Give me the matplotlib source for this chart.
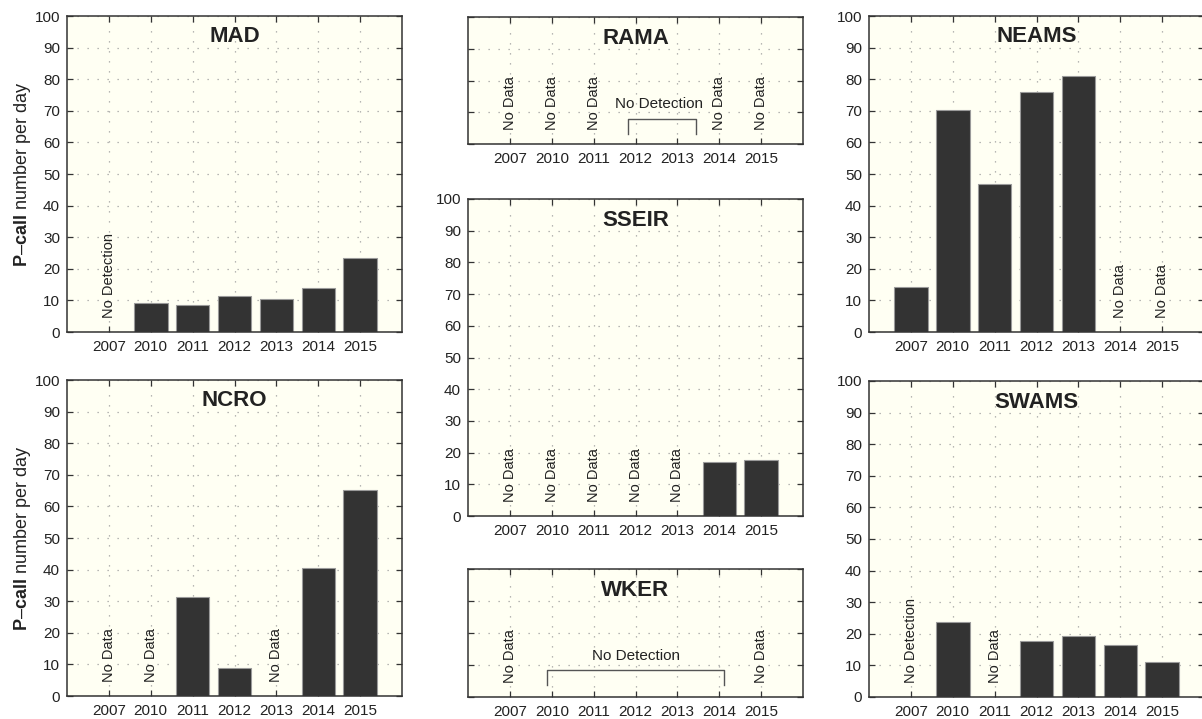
import numpy as np
import matplotlib
matplotlib.use('Agg')
from matplotlib import pyplot as plt

plt.rcParams['font.family'] = ['Liberation Sans', 'DejaVu Sans']
plt.rcParams['mathtext.fontset'] = 'custom'
plt.rcParams['mathtext.bf'] = 'Liberation Sans:bold'
plt.rcParams['mathtext.rm'] = 'Liberation Sans'

years = ['2007', '2010', '2011', '2012', '2013', '2014', '2015']

# values, 0 where there is no bar
mad = [0, 9.3, 8.7, 11.3, 10.5, 13.8, 23.4]
mad_notes = ['No Detection', '', '', '', '', '', '']

ncro = [0, 0, 31.2, 9.0, 0, 40.6, 65.1]
ncro_notes = ['No Data', 'No Data', '', '', 'No Data', '', '']

rama = [0, 0, 0, 0, 0, 0, 0]
rama_notes = ['No Data', 'No Data', 'No Data', '', '', 'No Data', 'No Data']

sseir = [0, 0, 0, 0, 0, 17.0, 17.7]
sseir_notes = ['No Data', 'No Data', 'No Data', 'No Data', 'No Data', '', '']

wker = [0, 0, 0, 0, 0, 0, 0]
wker_notes = ['No Data', '', '', '', '', '', 'No Data']

neams = [14.3, 70.2, 46.7, 76.0, 81.0, 0, 0]
neams_notes = ['', '', '', '', '', 'No Data', 'No Data']

swams = [0, 23.6, 0, 17.7, 19.2, 16.6, 11.1]
swams_notes = ['No Detection', '', 'No Data', '', '', '', '']

W, H = 1202, 719
fig = plt.figure(figsize=(W / 100, H / 100), dpi=100)
fig.patch.set_facecolor('white')

bg = '#fffff3'
dark = '#333333'
txt = '#222222'


def make_ax(x, top, w, h):
    return fig.add_axes([x / W, (H - top - h) / H, w / W, h / H])


def panel(ax, name, vals, notes, ymax=100, labels=True):
    pos = np.arange(1, len(years) + 1)
    ax.set_facecolor(bg)
    ax.set_axisbelow(True)
    ax.bar(pos, vals, width=0.8, color=dark, edgecolor='#9a9a9a', linewidth=0.8)
    ax.set_xlim(0, 8)
    ax.set_ylim(0, ymax)
    ax.set_xticks(pos)
    ax.set_xticklabels(years, fontsize=11, color=txt)
    ax.set_yticks(np.arange(0, ymax + 1, 10))
    if not labels:
        ax.set_yticklabels([])
    else:
        ax.tick_params(axis='y', labelsize=11, labelcolor=txt)
    ax.grid(True, linestyle=(0, (1, 7)), color='#a0a0a0', linewidth=0.9)
    ax.tick_params(direction='in', top=True, right=True, length=4,
                   color=dark, width=0.9, pad=5)
    ax.tick_params(axis='x', pad=6)
    for s in ax.spines.values():
        s.set_color(dark)
        s.set_linewidth(1.1)
    ax.annotate(name, xy=(0.5, 1), xycoords='axes fraction',
                xytext=(0, -21), textcoords='offset pixels',
                ha='center', va='center', fontsize=16, fontweight='bold',
                color=txt)
    for p, t in zip(pos, notes):
        if t:
            ax.text(p, 4.5, t, rotation=90, ha='center', va='bottom',
                    fontsize=10.5, color=txt)


def bracket(ax, x0, x1, ytop, ybot, ytext, xtext):
    ax.plot([x0, x0, x1, x1], [ybot, ytop, ytop, ybot], color='#555555',
            linewidth=1.0)
    ax.text(xtext, ytext, 'No Detection', ha='center', va='bottom',
            fontsize=11, color=txt)


ylab = r'$\mathbf{P}$' + '\u2013' + r'$\mathbf{call}$ number per day'

ax = make_ax(67, 16, 335, 316)
panel(ax, 'MAD', mad, mad_notes)
ax.set_ylabel(ylab, fontsize=13, labelpad=1, color=txt)

ax = make_ax(67, 380, 335, 316)
panel(ax, 'NCRO', ncro, ncro_notes)
ax.set_ylabel(ylab, fontsize=13, labelpad=1, color=txt)

ax = make_ax(468, 17, 335, 127)
panel(ax, 'RAMA', rama, rama_notes, ymax=40, labels=False)
bracket(ax, 3.83, 5.45, 7.9, 3.2, 10.3, 4.55)

ax = make_ax(468, 199, 335, 317)
panel(ax, 'SSEIR', sseir, sseir_notes)

ax = make_ax(468, 569, 335, 128)
panel(ax, 'WKER', wker, wker_notes, ymax=40, labels=False)
bracket(ax, 1.89, 6.12, 8.5, 3.8, 10.5, 4.0)

ax = make_ax(869, 16, 335, 316)
panel(ax, 'NEAMS', neams, neams_notes)

ax = make_ax(869, 381, 335, 316)
panel(ax, 'SWAMS', swams, swams_notes)

fig.savefig('out.png', dpi=100, facecolor='white')
